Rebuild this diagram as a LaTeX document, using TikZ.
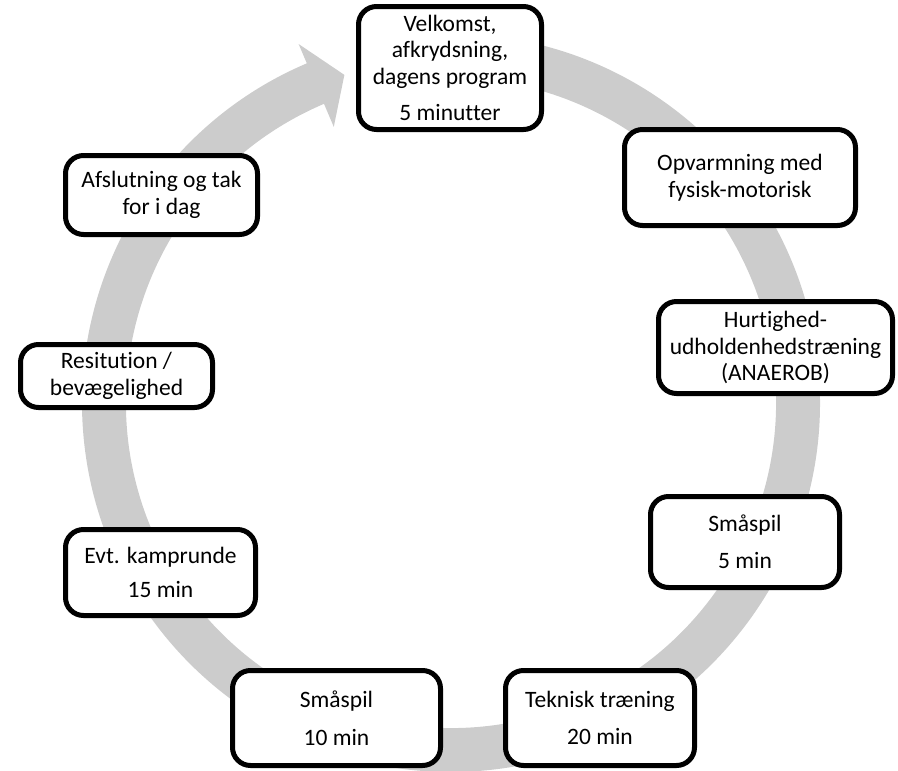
\documentclass[tikz,border=0pt]{standalone}
\usepackage{fontspec}
\setmainfont{Carlito}[Ligatures={NoCommon}]
\usetikzlibrary{calc}

\definecolor{ringgray}{HTML}{CCCCCC}
\tikzset{
	stagebox/.style={draw, line width=5pt, rounded corners=18pt, fill=white, align=center, inner sep=0pt, font=\fontsize{23.5}{26.5}\selectfont},
}

\begin{document}
\begin{tikzpicture}[x=1pt, y=-1pt]
	\useasboundingbox (0, 0) rectangle (898, 771);
	\coordinate (O) at (451, 403);
	
	% ring arrow, clockwise
	\fill[ringgray, shift={(O)}] (-95:369) arc[start angle=-95, end angle=247, radius=369]
		-- (247:390) -- (252:345) -- (247:300) -- (247:325)
		arc[start angle=247, end angle=-95, radius=325] -- cycle;
	
	\node[stagebox, minimum width=183pt, minimum height=123pt] (velkomst) at (450, 68)
		{Velkomst,\\ afkrydsning,\\ dagens program\\[10pt] 5 minutter};
	\node[stagebox, minimum width=231pt, minimum height=96pt] (opvarmning) at (740, 177.5)
		{Opvarmning med\\ fysisk-motorisk};
	\node[stagebox, minimum width=234pt, minimum height=92pt] (hurtighed) at (775.5, 347.5)
		{Hurtighed-\\ udholdenhedstræning\\ (ANAEROB)};
	\node[stagebox, minimum width=189pt, minimum height=91pt] (smaaspilA) at (745, 542)
		{Småspil\\[10pt] 5 min};
	\node[stagebox, minimum width=189pt, minimum height=95pt] (teknisk) at (600, 718)
		{Teknisk træning\\[11pt] 20 min};
	\node[stagebox, minimum width=208pt, minimum height=95pt] (smaaspilB) at (336.5, 718)
		{Småspil\\[11pt] 10 min};
	\node[stagebox, minimum width=190pt, minimum height=86pt] (kamprunde) at (160.5, 572.5)
		{Evt. kamprunde\\[8pt] 15 min};
	\node[stagebox, minimum width=192pt, minimum height=63pt] (resitution) at (116.5, 376)
		{Resitution /\\ bevægelighed};
	\node[stagebox, minimum width=192pt, minimum height=79pt] (afslutning) at (161.5, 195)
		{Afslutning og tak\\ for i dag};
	
\end{tikzpicture}
\end{document}
